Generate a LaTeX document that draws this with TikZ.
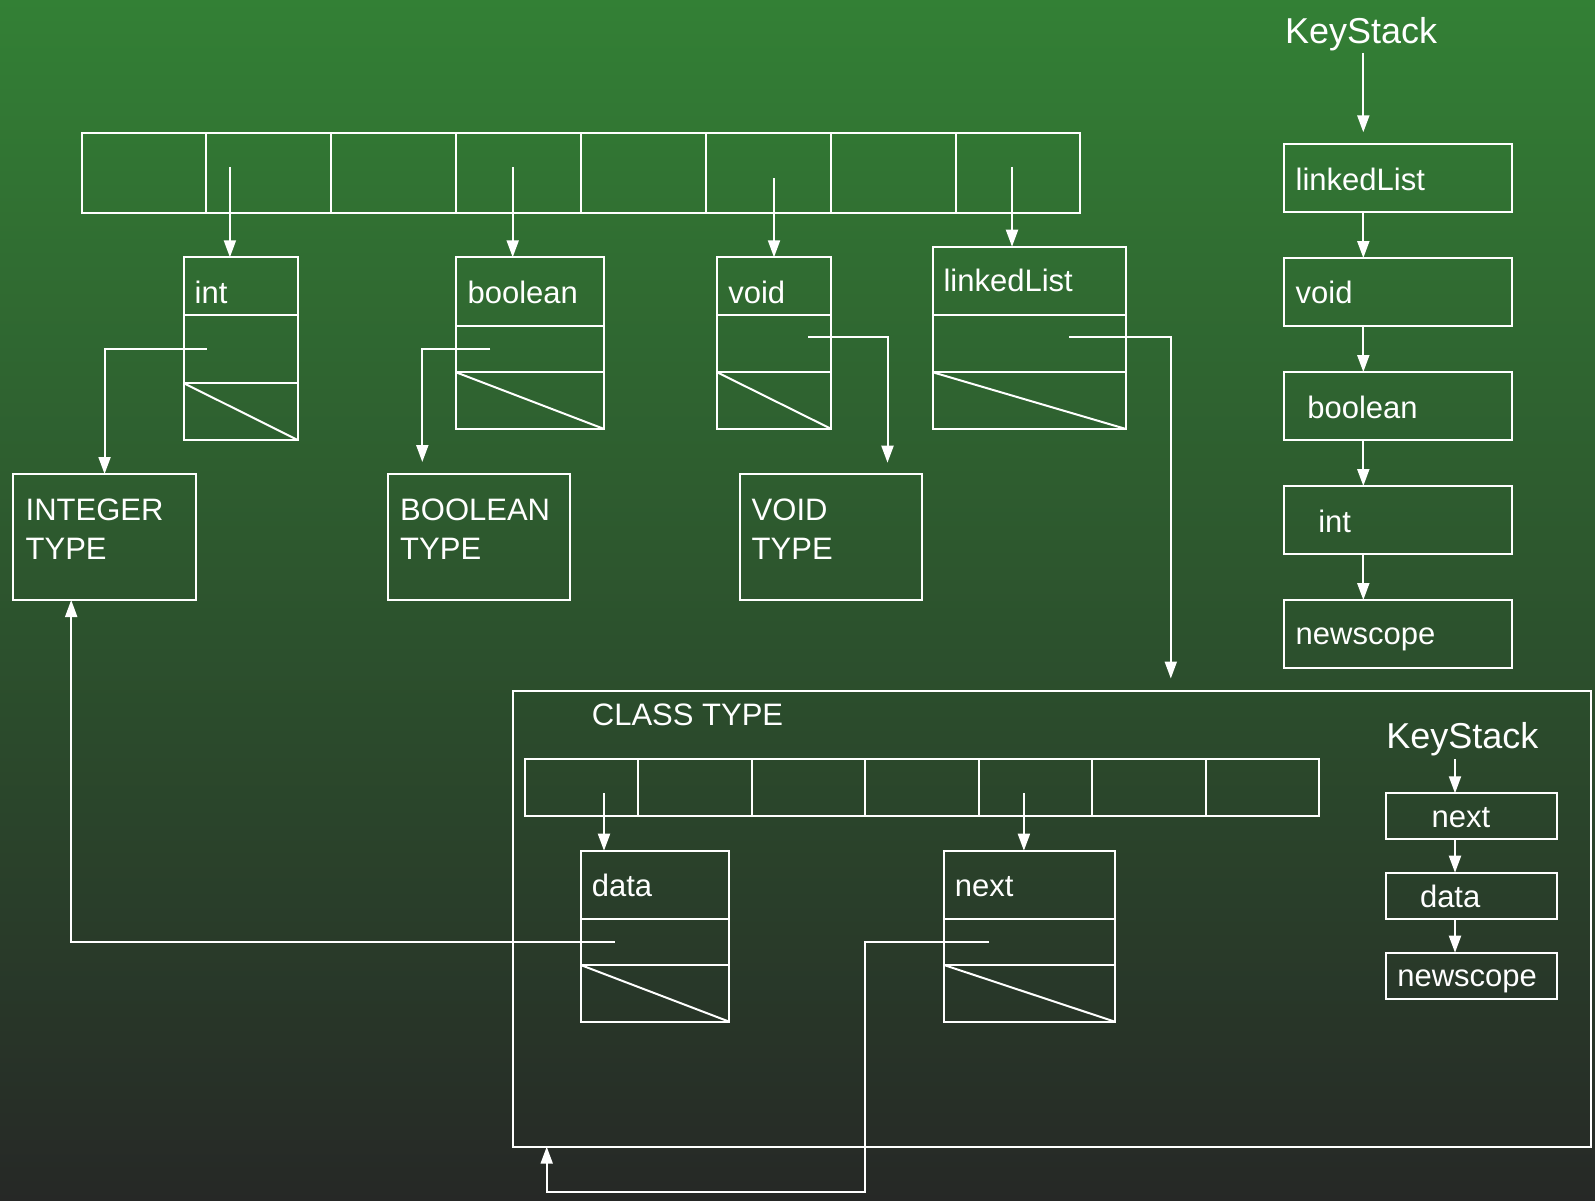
\documentclass[tikz,border=0pt]{standalone}
\usepackage{fontspec}
\setmainfont{Liberation Sans}
\usetikzlibrary{arrows.meta}
\definecolor{bgtop}{RGB}{51,128,53}
\definecolor{bgbot}{RGB}{38,40,38}

\begin{document}
\begin{tikzpicture}[x=1pt,y=-1pt,white,line width=2pt,
    ptr/.style={-{Triangle[length=17pt,width=12pt]}},
    cell/.style={draw,inner sep=0,outer sep=0,minimum width=124.85pt,minimum height=80pt},
    box/.style={draw,anchor=north west,inner sep=0,outer sep=0},
    lbl/.style={anchor=base west,inner sep=0,xshift=-2pt,font=\fontsize{31}{39}\selectfont},
    twolines/.style={anchor=north west,inner sep=0,xshift=-2pt,align=left,font=\fontsize{31}{39}\selectfont},
    title/.style={anchor=base west,inner sep=0,xshift=-2pt,font=\fontsize{36}{43}\selectfont}]

    \useasboundingbox (0,0) rectangle (1595,1201);
    \shade[top color=bgtop,bottom color=bgbot] (0,0) rectangle (1595,1201);

    % hash table
    \foreach \i in {1,...,8}
        \node[cell] (a\i) at ({81.6+124.85*(\i-0.5)},172.7) {};

    % entries
    \node[box,minimum width=113.7pt,minimum height=182.7pt] (intNode) at (184,257.3) {};
    \draw (184,314.7) -- (297.7,314.7);
    \draw (184,383.3) -- (297.7,383.3);
    \draw (184,383.3) -- (intNode.south east);
    \node[lbl] (intLbl) at (195.7,303.3) {int};

    \node[box,minimum width=148.2pt,minimum height=171.7pt] (boolNode) at (456,257.3) {};
    \draw (456,326) -- (604.2,326);
    \draw (456,372.3) -- (604.2,372.3);
    \draw (456,372.3) -- (boolNode.south east);
    \node[lbl] (boolLbl) at (468.6,303.3) {boolean};

    \node[box,minimum width=114.3pt,minimum height=171.7pt] (voidNode) at (717.1,257.3) {};
    \draw (717.1,314.7) -- (831.4,314.7);
    \draw (717.1,372.3) -- (831.4,372.3);
    \draw (717.1,372.3) -- (voidNode.south east);
    \node[lbl] (voidLbl) at (729.3,303.3) {void};

    \node[box,minimum width=193.1pt,minimum height=182.3pt] (listNode) at (932.9,246.7) {};
    \draw (932.9,314.7) -- (1126,314.7);
    \draw (932.9,372.3) -- (1126,372.3);
    \draw (932.9,372.3) -- (listNode.south east);
    \node[lbl] (listLbl) at (944.6,291.7) {linkedList};

    % table slots to entries
    \coordinate (s2) at (229.9,166.8);
    \coordinate (s4) at (512.7,166.8);
    \coordinate (s6) at (774,178.3);
    \coordinate (s8) at (1012,166.8);
    \draw[ptr] (s2) -- (s2 |- intNode.north);
    \draw[ptr] (s4) -- (s4 |- boolNode.north);
    \draw[ptr] (s6) -- (s6 |- voidNode.north);
    \draw[ptr] (s8) -- (s8 |- listNode.north);

    % types
    \node[box,minimum width=182.5pt,minimum height=126pt] (intType) at (13.3,474) {};
    \node[twolines] (intTxt) at (26.7,497.4) {INTEGER\\TYPE};
    \node[box,minimum width=181.8pt,minimum height=126pt] (boolType) at (387.9,474) {};
    \node[twolines] (boolTxt) at (401.2,497.4) {BOOLEAN\\TYPE};
    \node[box,minimum width=181.8pt,minimum height=126pt] (voidType) at (740,474) {};
    \node[twolines] (voidTxt) at (752.7,497.4) {VOID\\TYPE};

    % entry pointers
    \coordinate (intP) at (206.8,349);
    \coordinate (boolP) at (490.3,349);
    \coordinate (boolT) at (422.3,462);
    \coordinate (voidP) at (808.2,337.3);
    \coordinate (voidT) at (887.5,462.7);
    \coordinate (listP) at (1069,337.3);
    \coordinate (listT) at (1170.8,678.5);
    \draw[ptr] (intP) -| (intType.north);
    \draw[ptr] (boolP) -| (boolT);
    \draw[ptr] (voidP) -| (voidT);
    \draw[ptr] (listP) -| (listT);

    % key stack
    \node[title] (ksTitle) at (1286,43.4) {KeyStack};
    \foreach \i/\y in {1/144,2/258,3/372,4/486,5/600}
        \node[box,minimum width=228pt,minimum height=68pt] (ks\i) at (1284,\y) {};
    \node[lbl] (ksLbl1) at (1296.7,190.8) {linkedList};
    \node[lbl] (ksLbl2) at (1296.7,303.6) {void};
    \node[lbl] (ksLbl3) at (1308.3,418.5) {boolean};
    \node[lbl] (ksLbl4) at (1319.3,532.5) {int};
    \node[lbl] (ksLbl5) at (1296.7,644.8) {newscope};
    \coordinate (k0) at (1363.3,52.9);
    \coordinate (k1) at (1363.3,132.3);
    \draw[ptr] (k0) -- (k1);
    \foreach \i/\j in {1/2,2/3,3/4,4/5}
        \draw[ptr] (ks\i.south -| k0) -- (ks\j.north -| k0);

    % class type
    \node[box,minimum width=1078.3pt,minimum height=455.7pt] (classBox) at (512.7,691) {};
    \node[lbl] (classLbl) at (592.9,725) {CLASS TYPE};
    \foreach \i in {1,...,7}
        \node[cell,minimum width=113.5pt,minimum height=56.7pt] (b\i) at ({524.5+113.5*(\i-0.5)},787.65) {};

    \node[box,minimum width=148.6pt,minimum height=171pt] (dataNode) at (580.7,850.7) {};
    \draw (580.7,918.7) -- (729.3,918.7);
    \draw (580.7,965) -- (729.3,965);
    \draw (580.7,965) -- (dataNode.south east);
    \node[lbl] (dataLbl) at (592.9,896) {data};

    \node[box,minimum width=170.9pt,minimum height=171pt] (nextNode) at (944,850.7) {};
    \draw (944,918.7) -- (1114.9,918.7);
    \draw (944,965) -- (1114.9,965);
    \draw (944,965) -- (nextNode.south east);
    \node[lbl] (nextLbl) at (955.9,896) {next};

    \coordinate (c1) at (604,793.3);
    \coordinate (c5) at (1023.9,793.3);
    \draw[ptr] (c1) -- (c1 |- dataNode.north);
    \draw[ptr] (c5) -- (c5 |- nextNode.north);

    % inner key stack
    \node[title] (csTitle) at (1387.3,748.3) {KeyStack};
    \foreach \i/\y in {1/793.3,2/872.7,3/952.7}
        \node[box,minimum width=171.3pt,minimum height=46pt] (cs\i) at (1386,\y) {};
    \node[lbl] (csLbl1) at (1432.7,827.7) {next};
    \node[lbl] (csLbl2) at (1421,907.7) {data};
    \node[lbl] (csLbl3) at (1398.3,986.7) {newscope};
    \coordinate (m0) at (1455,759.3);
    \draw[ptr] (m0) -- (m0 |- cs1.north);
    \draw[ptr] (cs1.south -| m0) -- (cs2.north -| m0);
    \draw[ptr] (cs2.south -| m0) -- (cs3.north -| m0);

    % field pointers
    \coordinate (dataP) at (614.7,941.7);
    \coordinate (intIn) at (71.2,600);
    \draw[ptr] (dataP) -| (intIn);
    \coordinate (nextP) at (989.1,941.7);
    \coordinate (loop) at (864.6,1191.7);
    \coordinate (classIn) at (546.7,1146.7);
    \draw[ptr] (nextP) -| (loop) -| (classIn);
\end{tikzpicture}
\end{document}
